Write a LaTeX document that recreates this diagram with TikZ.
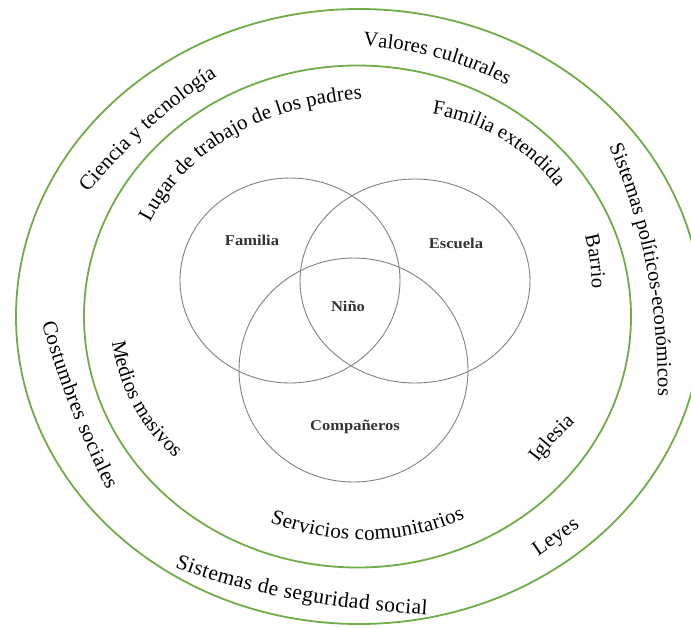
\documentclass[tikz,border=0pt]{standalone}
\usepackage{fontspec}
\setmainfont{Liberation Serif}
\newfontfamily\vennfont[FakeStretch=1.1]{Liberation Serif}
\usetikzlibrary{decorations.text,calc}
\definecolor{ringgreen}{RGB}{112,173,71}
\definecolor{venngray}{RGB}{130,130,130}
\newcommand\ringtext[5][20]{%
  \coordinate (rtS) at (#2);
  \coordinate (rtM) at (#3);
  \coordinate (rtE) at (#4);
  \coordinate (rtQ) at ($2*(rtM)-0.5*(rtS)-0.5*(rtE)$);
  \path[decorate, decoration={text along path, text align={fit to path}, text={|\fontsize{#1}{#1}\selectfont|#5}}]
    (rtS) .. controls ($(rtS)!2/3!(rtQ)$) and ($(rtE)!2/3!(rtQ)$) .. (rtE);
}
\tikzset{
  ring/.style={draw=ringgreen, line width=1.8pt},
  venn/.style={draw=venngray, line width=0.9pt},
  vlabel/.style={font=\vennfont\fontsize{15}{15}\selectfont\bfseries, text=black!80, anchor=base, inner sep=0pt},
}
\begin{document}
\begin{tikzpicture}[x=1pt,y=-1pt]
\useasboundingbox (0,0) rectangle (691,627);
\clip (0,0) rectangle (691,627);
\fill[white] (0,0) rectangle (691,627);
% rings
\draw[ring] (359,316.5) ellipse [x radius=343, y radius=307.5];
\draw[ring] (357.5,316.5) ellipse [x radius=273.5, y radius=251];
% venn circles
\draw[venn] (290,280.5) ellipse [x radius=110, y radius=102.5];
\draw[venn] (415,281) ellipse [x radius=115, y radius=102];
\draw[venn] (353.5,370) ellipse [x radius=114.5, y radius=112];
% venn labels
\node[vlabel] (familia) at (252,245) {Familia};
\node[vlabel] (escuela) at (456,248) {Escuela};
\node[vlabel] (nino) at (348,311) {Niño};
\node[vlabel] (companeros) at (355,430) {Compañeros};
% outer ring texts
\ringtext[21]{88,193}{151,127}{217,76}{Ciencia y tecnología}
\ringtext[20.5]{363,46}{439,58}{507,85}{Valores culturales}
\ringtext[20.5]{609,147}{646,265}{658,396}{Sistemas políticos-económicos}
\ringtext[21]{42,323}{70,407}{107,490}{Costumbres sociales}
\ringtext[21.5]{175,567}{287,598}{427,615}{Sistemas de seguridad social}
\ringtext[21]{538,556}{559,541.5}{580,527}{Leyes}
% inner ring texts
\ringtext[21]{150,223}{232,136}{362,99}{Lugar de trabajo de los padres}
\ringtext[20.3]{432,114}{500,138}{557,187}{Familia extendida}
\ringtext[20.5]{585,236}{590,262}{592,289}{Barrio}
\ringtext[20.5]{112,342}{133,406}{175,458}{Medios masivos}
\ringtext[21]{270,522}{369,540}{465,518}{Servicios comunitarios}
\ringtext[20.5]{538,463}{556,441}{575,422}{Iglesia}
\end{tikzpicture}
\end{document}
